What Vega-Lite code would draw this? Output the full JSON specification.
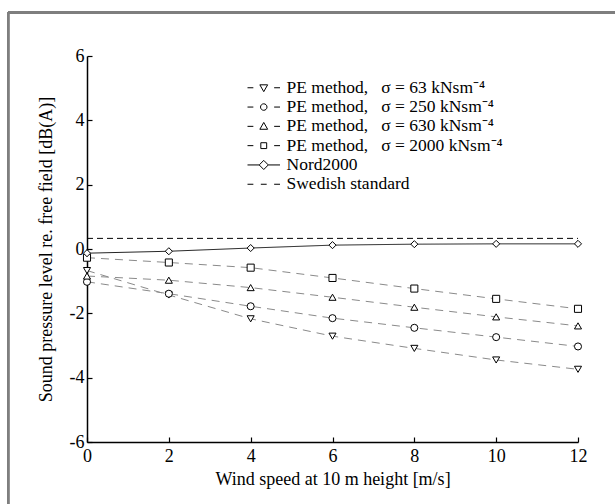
{
  "$schema": "https://vega.github.io/schema/vega-lite/v6.json",
  "autosize": "none",
  "width": 491,
  "height": 386,
  "padding": {"left": 87, "top": 56, "right": 37, "bottom": 62},
  "background": "white",
  "config": {
    "view": {"stroke": null},
    "font": "Liberation Serif",
    "axis": {
      "labelFont": "Liberation Serif", "titleFont": "Liberation Serif",
      "labelFontSize": 18, "titleFontSize": 18, "titleFontWeight": "normal",
      "labelColor": "black", "titleColor": "black",
      "domainColor": "black", "tickColor": "black", "domainWidth": 1.5, "tickWidth": 1.2,
      "grid": false
    },
    "legend": {
      "labelFont": "Liberation Serif", "labelFontSize": 17.5, "labelColor": "black"
    }
  },
  "data": {"values": [
    {"series": "PE method, \u2002σ = 63 kNsm⁻⁴", "x": 0, "y": -0.67},
    {"series": "PE method, \u2002σ = 63 kNsm⁻⁴", "x": 2, "y": -1.43},
    {"series": "PE method, \u2002σ = 63 kNsm⁻⁴", "x": 4, "y": -2.17},
    {"series": "PE method, \u2002σ = 63 kNsm⁻⁴", "x": 6, "y": -2.71},
    {"series": "PE method, \u2002σ = 63 kNsm⁻⁴", "x": 8, "y": -3.09},
    {"series": "PE method, \u2002σ = 63 kNsm⁻⁴", "x": 10, "y": -3.45},
    {"series": "PE method, \u2002σ = 63 kNsm⁻⁴", "x": 12, "y": -3.74},
    {"series": "PE method, \u2002σ = 250 kNsm⁻⁴", "x": 0, "y": -1.02},
    {"series": "PE method, \u2002σ = 250 kNsm⁻⁴", "x": 2, "y": -1.39},
    {"series": "PE method, \u2002σ = 250 kNsm⁻⁴", "x": 4, "y": -1.78},
    {"series": "PE method, \u2002σ = 250 kNsm⁻⁴", "x": 6, "y": -2.15},
    {"series": "PE method, \u2002σ = 250 kNsm⁻⁴", "x": 8, "y": -2.45},
    {"series": "PE method, \u2002σ = 250 kNsm⁻⁴", "x": 10, "y": -2.74},
    {"series": "PE method, \u2002σ = 250 kNsm⁻⁴", "x": 12, "y": -3.03},
    {"series": "PE method, \u2002σ = 630 kNsm⁻⁴", "x": 0, "y": -0.84},
    {"series": "PE method, \u2002σ = 630 kNsm⁻⁴", "x": 2, "y": -0.97},
    {"series": "PE method, \u2002σ = 630 kNsm⁻⁴", "x": 4, "y": -1.2},
    {"series": "PE method, \u2002σ = 630 kNsm⁻⁴", "x": 6, "y": -1.5},
    {"series": "PE method, \u2002σ = 630 kNsm⁻⁴", "x": 8, "y": -1.81},
    {"series": "PE method, \u2002σ = 630 kNsm⁻⁴", "x": 10, "y": -2.11},
    {"series": "PE method, \u2002σ = 630 kNsm⁻⁴", "x": 12, "y": -2.39},
    {"series": "PE method, \u2002σ = 2000 kNsm⁻⁴", "x": 0, "y": -0.27},
    {"series": "PE method, \u2002σ = 2000 kNsm⁻⁴", "x": 2, "y": -0.42},
    {"series": "PE method, \u2002σ = 2000 kNsm⁻⁴", "x": 4, "y": -0.58},
    {"series": "PE method, \u2002σ = 2000 kNsm⁻⁴", "x": 6, "y": -0.9},
    {"series": "PE method, \u2002σ = 2000 kNsm⁻⁴", "x": 8, "y": -1.23},
    {"series": "PE method, \u2002σ = 2000 kNsm⁻⁴", "x": 10, "y": -1.55},
    {"series": "PE method, \u2002σ = 2000 kNsm⁻⁴", "x": 12, "y": -1.86},
    {"series": "Nord2000", "x": 0, "y": -0.13},
    {"series": "Nord2000", "x": 2, "y": -0.07},
    {"series": "Nord2000", "x": 4, "y": 0.03},
    {"series": "Nord2000", "x": 6, "y": 0.12},
    {"series": "Nord2000", "x": 8, "y": 0.15},
    {"series": "Nord2000", "x": 10, "y": 0.16},
    {"series": "Nord2000", "x": 12, "y": 0.16},
    {"series": "Swedish standard", "x": 0, "y": 0.33},
    {"series": "Swedish standard", "x": 12, "y": 0.33}
  ]},
  "encoding": {
    "x": {"field": "x", "type": "quantitative",
      "scale": {"domain": [0, 12], "nice": false, "zero": false},
      "axis": {"values": [0, 2, 4, 6, 8, 10, 12], "labelExpr": "datum.value + ''", "tickSize": -5, "labelPadding": 10, "labelFlush": false, "title": "Wind speed at 10 m height [m/s]", "titlePadding": 5}},
    "y": {"field": "y", "type": "quantitative",
      "scale": {"domain": [-6, 6], "nice": false, "zero": false},
      "axis": {"values": [-6, -4, -2, 0, 2, 4, 6], "labelExpr": "datum.value + ''", "tickSize": -5, "labelPadding": 8, "title": "Sound pressure level re. free field [dB(A)]", "titlePadding": 14}}
  },
  "layer": [
    {
      "mark": {"type": "rule", "color": "#7f7f7f", "strokeWidth": 2},
      "encoding": {"x": {"datum": -1.93}, "y": {"datum": 7.35}, "y2": {"datum": -9}}
    },
    {
      "mark": {"type": "rule", "color": "#7f7f7f", "strokeWidth": 2},
      "encoding": {"y": {"datum": 7.35}, "x": {"datum": -1.93}, "x2": {"datum": 13.2}}
    },
    {
      "mark": {"type": "line"},
      "encoding": {
        "color": {"field": "series", "type": "nominal", "legend": null,
          "scale": {"domain": ["PE method, \u2002σ = 63 kNsm⁻⁴", "PE method, \u2002σ = 250 kNsm⁻⁴", "PE method, \u2002σ = 630 kNsm⁻⁴", "PE method, \u2002σ = 2000 kNsm⁻⁴", "Nord2000", "Swedish standard"],
            "range": ["#8a8a8a", "#8a8a8a", "#8a8a8a", "#8a8a8a", "#222222", "#000000"]}},
        "strokeDash": {"field": "series", "type": "nominal", "legend": null,
          "scale": {"domain": ["PE method, \u2002σ = 63 kNsm⁻⁴", "PE method, \u2002σ = 250 kNsm⁻⁴", "PE method, \u2002σ = 630 kNsm⁻⁴", "PE method, \u2002σ = 2000 kNsm⁻⁴", "Nord2000", "Swedish standard"],
            "range": [[8, 6], [8, 6], [8, 6], [8, 6], [1, 0], [6, 4]]}},
        "strokeWidth": {"field": "series", "type": "nominal", "legend": null,
          "scale": {"domain": ["PE method, \u2002σ = 63 kNsm⁻⁴", "PE method, \u2002σ = 250 kNsm⁻⁴", "PE method, \u2002σ = 630 kNsm⁻⁴", "PE method, \u2002σ = 2000 kNsm⁻⁴", "Nord2000", "Swedish standard"],
            "range": [1, 1, 1, 1, 1.4, 1.2]}}
      }
    },
    {
      "transform": [{"filter": "datum.series !== 'Swedish standard'"}],
      "mark": {"type": "point", "filled": true, "fill": "white", "stroke": "black", "strokeWidth": 1, "size": 50, "opacity": 1},
      "encoding": {
        "shape": {"field": "series", "type": "nominal", "legend": null,
          "scale": {"domain": ["PE method, \u2002σ = 63 kNsm⁻⁴", "PE method, \u2002σ = 250 kNsm⁻⁴", "PE method, \u2002σ = 630 kNsm⁻⁴", "PE method, \u2002σ = 2000 kNsm⁻⁴", "Nord2000"],
            "range": ["triangle-down", "circle", "triangle-up", "square", "diamond"]}}
      }
    },
    {
      "transform": [{"filter": "datum.x > 100"}],
      "mark": {"type": "point", "filled": false, "color": "black", "strokeWidth": 1, "opacity": 1},
      "encoding": {
        "shape": {"field": "series", "type": "nominal",
          "scale": {"domain": ["PE method, \u2002σ = 63 kNsm⁻⁴", "PE method, \u2002σ = 250 kNsm⁻⁴", "PE method, \u2002σ = 630 kNsm⁻⁴", "PE method, \u2002σ = 2000 kNsm⁻⁴", "Nord2000", "Swedish standard"],
            "range": [
              "M-2.5,0H-1.6M1.6,0H2.5M-0.6,-0.45L0.6,-0.45L0,0.6Z",
              "M-2.5,0H-1.6M1.6,0H2.5M0.5,0A0.5,0.5,0,1,1,-0.5,0A0.5,0.5,0,1,1,0.5,0Z",
              "M-2.5,0H-1.6M1.6,0H2.5M-0.6,0.45L0.6,0.45L0,-0.6Z",
              "M-2.5,0H-1.6M1.6,0H2.5M-0.45,-0.45H0.45V0.45H-0.45Z",
              "M-2.5,0H-0.7M0.7,0H2.5M-0.7,0L0,-0.7L0.7,0L0,0.7Z",
              "M-2.5,0H-1.6M-0.45,0H0.45M1.6,0H2.5"
            ]},
          "legend": {"orient": "none", "legendX": 168, "legendY": 23, "title": null, "padding": 0,
            "symbolSize": 169, "labelOffset": 14, "rowPadding": 0.3, "labelLimit": 400,
            "symbolStrokeColor": "black", "symbolStrokeWidth": 1}
        }
      }
    }
  ],
  "resolve": {"scale": {"shape": "independent"}, "legend": {"shape": "independent"}}
}
